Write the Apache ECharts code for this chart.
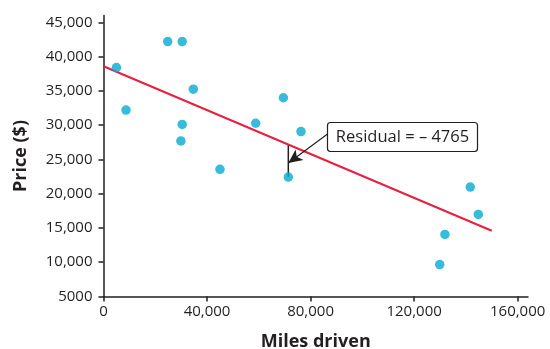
<!DOCTYPE html>
<html>
<head>
<meta charset="utf-8">
<script src="https://cdn.jsdelivr.net/npm/echarts@6/dist/echarts.min.js"></script>
<style>
  html, body { margin: 0; padding: 0; background: #fff; }
  #chart { width: 550px; height: 349px; }
</style>
</head>
<body>
<div id="chart"></div>
<script>
// miles driven vs price
const miles = [5000, 8700, 24800, 30400, 34700, 30400, 29900, 45000, 58800, 69500, 76300, 71400, 141700, 144800, 131900, 129900];
const price = [38400, 32200, 42200, 42200, 35250, 30100, 27700, 23550, 30280, 34000, 29060, 22430, 20960, 16970, 14050, 9660];

// fitted line end points
const fitX = [0, 150000];
const fitY = [38600, 14600];

// residual marker for the point at 71,400 miles
const residX = 71400;
const residFrom = 22430;
const residTo = 27180;
const residLabel = 'Residual = \u2013 4765';

const xTicks = [0, 40000, 80000, 120000, 160000];
const yTicks = [5000, 10000, 15000, 20000, 25000, 30000, 35000, 40000, 45000];

const ink = '#231f20';
const font = '"Open Sans", sans-serif';

const fmt = v => v === 5000 ? '5000' : v.toLocaleString('en-US');

const chart = echarts.init(document.getElementById('chart'));

chart.setOption({
  animation: false,
  grid: { left: 103.5, right: 22, top: 15.5, bottom: 52.5, containLabel: false, outerBoundsMode: 'none' },
  xAxis: {
    type: 'value',
    min: 0,
    max: 164000,
    name: 'Miles driven',
    nameLocation: 'middle',
    nameGap: 36,
    nameTextStyle: { fontFamily: font, fontWeight: 'bold', fontSize: 18, color: ink },
    splitLine: { show: false },
    axisLine: { lineStyle: { color: ink, width: 1.5 } },
    axisTick: { customValues: xTicks, length: 5, lineStyle: { color: ink, width: 1.5 } },
    axisLabel: { customValues: xTicks, formatter: fmt, margin: 8, fontFamily: font, fontSize: 15, color: ink }
  },
  yAxis: {
    type: 'value',
    min: 5000,
    max: 46000,
    name: 'Price ($)',
    nameLocation: 'middle',
    nameGap: 74,
    nameTextStyle: { fontFamily: font, fontWeight: 'bold', fontSize: 18, color: ink },
    splitLine: { show: false },
    axisLine: { lineStyle: { color: ink, width: 1.5 } },
    axisTick: { customValues: yTicks, length: 5, lineStyle: { color: ink, width: 1.5 } },
    axisLabel: { customValues: yTicks, formatter: fmt, margin: 11, fontFamily: font, fontSize: 15, color: ink }
  },
  series: [
    {
      type: 'line',
      data: fitX.map((x, i) => [x, fitY[i]]),
      symbol: 'none',
      lineStyle: { color: '#e8203f', width: 2 },
      z: 2
    },
    {
      type: 'line',
      data: [[residX, residFrom], [residX, residTo]],
      symbol: 'none',
      lineStyle: { color: ink, width: 1.5 },
      z: 1,
      markLine: {
        silent: true,
        symbol: ['none', 'arrow'],
        symbolSize: [10, 14],
        label: { show: false },
        lineStyle: { color: ink, width: 1.2, type: 'solid' },
        data: [[{ coord: [86830, 28770] }, { coord: [residX, 24470] }]]
      }
    },
    {
      type: 'scatter',
      data: miles.map((m, i) => [m, price[i]]),
      symbolSize: 9.5,
      itemStyle: { color: '#06aad2' },
      z: 3
    }
  ],
  graphic: [
    {
      type: 'rect',
      shape: { x: 327.5, y: 122.5, width: 150, height: 29, r: 3 },
      style: { fill: '#fff', stroke: ink, lineWidth: 1.2 },
      z: 10
    },
    {
      type: 'text',
      x: 402.5,
      y: 137,
      style: {
        text: residLabel,
        fontFamily: font,
        fontSize: 16.5,
        fill: ink,
        align: 'center',
        verticalAlign: 'middle'
      },
      z: 11
    }
  ]
});
</script>
</body>
</html>
